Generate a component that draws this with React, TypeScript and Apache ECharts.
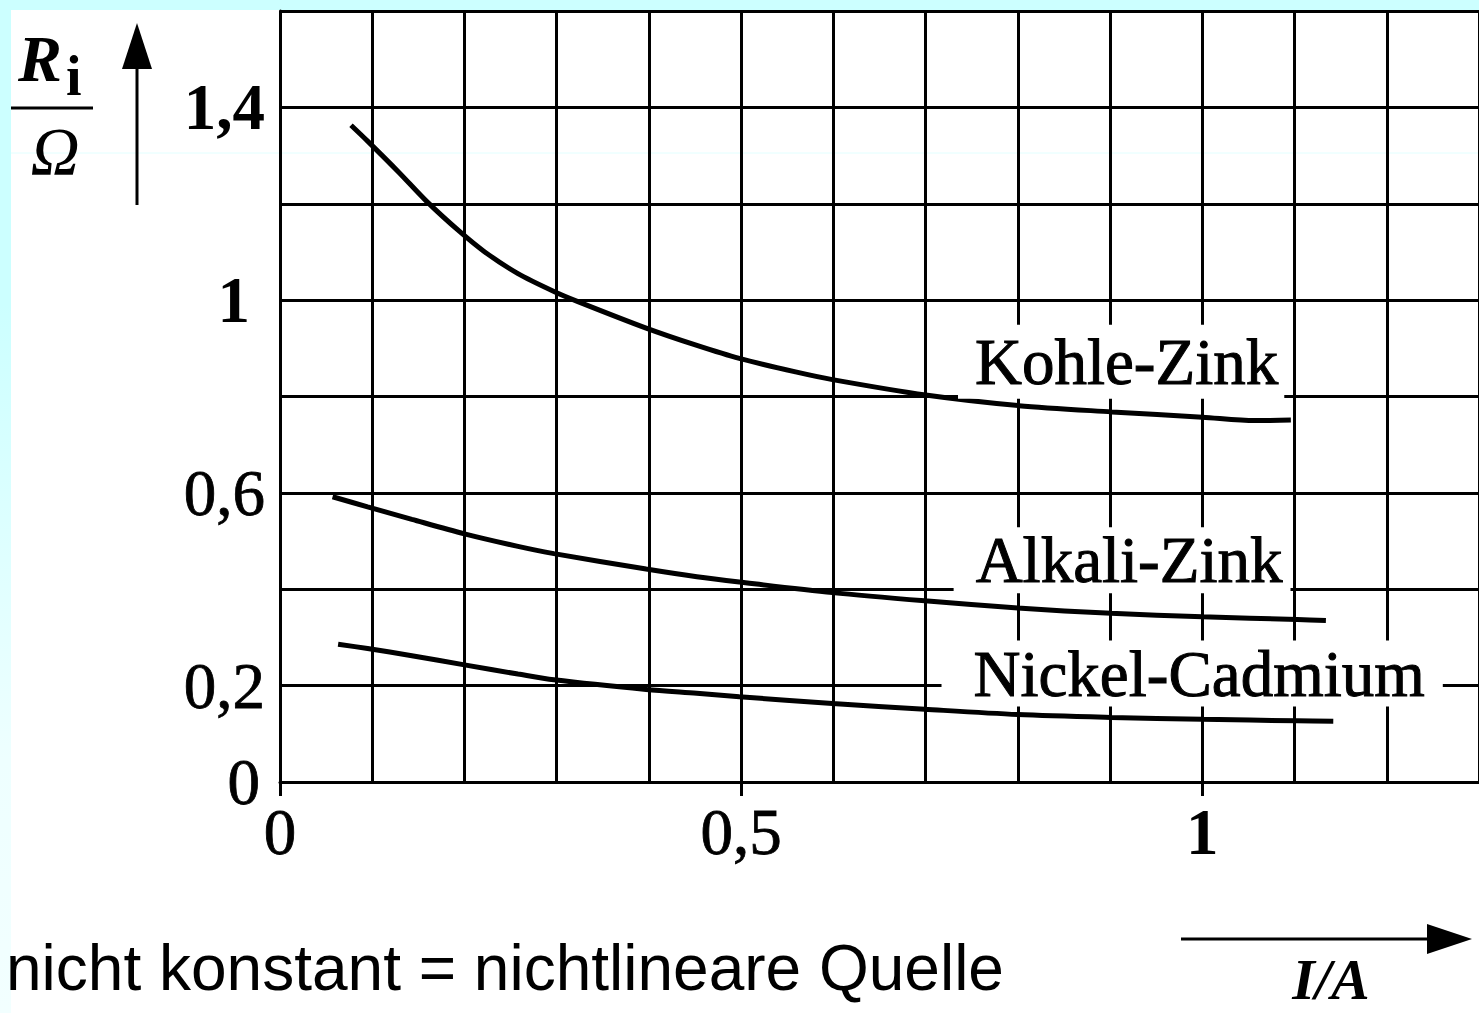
import React, { useEffect, useRef } from "react";
import * as echarts from "echarts";

// ---- data ----
const kohleX = [0.077, 0.095, 0.129, 0.159, 0.195, 0.222, 0.258, 0.297, 0.323, 0.397, 0.452, 0.498, 0.559, 0.599, 0.7, 0.801, 0.902, 1.0, 1.057, 1.096];
const kohleY = [1.363, 1.33, 1.265, 1.205, 1.142, 1.1, 1.055, 1.018, 0.997, 0.942, 0.906, 0.879, 0.851, 0.835, 0.803, 0.781, 0.768, 0.757, 0.75, 0.751];

const alkaliX = [0.057, 0.095, 0.143, 0.2, 0.258, 0.297, 0.397, 0.452, 0.498, 0.599, 0.699, 0.8, 0.901, 1.0, 1.103, 1.134];
const alkaliY = [0.592, 0.571, 0.545, 0.515, 0.489, 0.474, 0.442, 0.426, 0.415, 0.393, 0.376, 0.361, 0.35, 0.343, 0.337, 0.335];

const nickelX = [0.063, 0.095, 0.143, 0.2, 0.258, 0.297, 0.397, 0.452, 0.498, 0.599, 0.699, 0.8, 0.901, 1.0, 1.103, 1.142];
const nickelY = [0.286, 0.277, 0.262, 0.243, 0.224, 0.212, 0.192, 0.184, 0.177, 0.163, 0.151, 0.14, 0.134, 0.13, 0.127, 0.126];

const curveNames = ["Kohle-Zink", "Alkali-Zink", "Nickel-Cadmium"];
const labelAnchorX = [0.912, 0.913, 0.989];
const labelAnchorY = [0.872, 0.46, 0.225];

const yLabelValues = [0, 0.2, 0.6, 1, 1.4];
const yLabelTexts = ["0", "0,2", "0,6", "1", "1,4"];
const xLabelValues = [0, 0.5, 1];
const xLabelTexts = ["0", "0,5", "1"];

const yAxisTitleMain = "R";
const yAxisTitleSub = "i";
const yAxisTitleUnit = "Ω";
const xAxisTitle = "I/A";
const footnote = "nicht konstant = nichtlineare Quelle";

const SERIF = '"Liberation Serif", "Times New Roman", serif';
const SANS = '"Liberation Sans", Arial, sans-serif';

const pairs = (xs: number[], ys: number[]) => xs.map((x, i) => [x, ys[i]]);

const labelPaddings: number[][] = [
  [3, 6, 5, 17],
  [0, 8, 0, 22],
  [0, 18, 0, 32],
];

function findLabel(values: number[], texts: string[], v: number): string | null {
  const i = values.findIndex((t) => Math.abs(t - v) < 1e-6);
  return i < 0 ? null : texts[i];
}

export default function App() {
  const ref = useRef<HTMLDivElement>(null);

  useEffect(() => {
    if (!ref.current) return;
    const chart = echarts.init(ref.current, undefined, { renderer: "svg" });

    const baseRich = {
      fontFamily: SERIF,
      fontSize: 65,
      lineHeight: 64,
      color: "#000",
      textBorderColor: "#000",
      textBorderWidth: 0.8,
    };
    const rich = {
      r: { ...baseRich },
      b: { ...baseRich, fontWeight: "bold", textBorderWidth: 0 },
      b1: { ...baseRich, fontWeight: "bold", textBorderWidth: 0, padding: [0, 15, 0, 0] },
      z: { ...baseRich, padding: [0, 5, 0, 0] },
    };
    const xrich = {
      r: { ...baseRich },
      b: { ...baseRich, fontWeight: "bold", textBorderWidth: 0 },
    };

    const seriesData = [pairs(kohleX, kohleY), pairs(alkaliX, alkaliY), pairs(nickelX, nickelY)];

    const series = seriesData.map((d, i) => ({
      type: "line",
      name: curveNames[i],
      xAxisIndex: 0,
      yAxisIndex: 0,
      data: d,
      smooth: 0.3,
      showSymbol: false,
      symbol: "none",
      lineStyle: { color: "#000", width: 5 },
      silent: true,
      markPoint: {
        silent: true,
        symbol: "rect",
        symbolSize: 1,
        itemStyle: { color: "rgba(0,0,0,0)" },
        data: [
          {
            coord: [labelAnchorX[i], labelAnchorY[i]],
            label: {
              show: true,
              position: "inside",
              formatter: curveNames[i],
              fontFamily: SERIF,
              fontSize: 65,
              lineHeight: 66,
              color: "#000",
              textBorderColor: "#000",
              textBorderWidth: 1,
              backgroundColor: "#fff",
              padding: labelPaddings[i],
            },
          },
        ],
      },
    }));

    const option: any = {
      animation: false,
      backgroundColor: "#fff",
      grid: { left: 280, top: 11, right: -10, bottom: 231, containLabel: false },
      xAxis: [
        {
          type: "value",
          position: "bottom",
          min: 0,
          max: 1.3,
          interval: 0.1,
          axisLine: { show: true, lineStyle: { color: "#000", width: 3 } },
          axisTick: { show: false },
          splitLine: { show: true, lineStyle: { color: "#000", width: 3 } },
          axisLabel: { show: false },
        },
        {
          type: "value",
          position: "bottom",
          offset: 0,
          min: 0,
          max: 1.3,
          interval: 0.5,
          axisLine: { show: false },
          axisTick: {
            show: true,
            length: 14,
            inside: false,
            lineStyle: { color: "#000", width: 3 },
          },
          splitLine: { show: false },
          axisLabel: {
            show: true,
            margin: 18,
            fontFamily: SERIF,
            fontSize: 65,
            lineHeight: 64,
            color: "#000",
            showMinLabel: true,
            showMaxLabel: false,
            rich: xrich,
            formatter: (v: number) => {
              const t = findLabel(xLabelValues, xLabelTexts, v);
              if (t === null) return "";
              return t === "1" ? `{b|${t}}` : `{r|${t}}`;
            },
          },
        },
      ],
      yAxis: {
        type: "value",
        min: 0,
        max: 1.6,
        interval: 0.2,
        axisLine: { show: true, lineStyle: { color: "#000", width: 3 } },
        axisTick: { show: false },
        splitLine: { show: true, lineStyle: { color: "#000", width: 3 } },
        axisLabel: {
          show: true,
          margin: 15,
          fontFamily: SERIF,
          fontSize: 65,
          color: "#000",
          rich,
          formatter: (v: number) => {
            const t = findLabel(yLabelValues, yLabelTexts, v);
            if (t === null) return "";
            const s = t === "1" ? "b1" : t === "1,4" ? "b" : t === "0" ? "z" : "r";
            return `{${s}|${t}}`;
          },
        },
      },
      series,
      graphic: [
        // faint scan line
        {
          type: "line",
          z: -1,
          silent: true,
          shape: { x1: 0, y1: 153, x2: 1479, y2: 153 },
          style: { stroke: "#E2FFFF", lineWidth: 1 },
        },
        // cyan frame strips
        {
          type: "rect",
          silent: true,
          shape: { x: 0, y: 0, width: 1479, height: 10 },
          style: { fill: "#CCFFFF" },
        },
        {
          type: "rect",
          silent: true,
          shape: { x: 0, y: 0, width: 11, height: 1013 },
          style: {
            fill: new echarts.graphic.LinearGradient(0, 0, 0, 1, [
              { offset: 0, color: "#CCFFFF" },
              { offset: 0.3, color: "#CCFFFF" },
              { offset: 0.75, color: "#EEFFFF" },
              { offset: 1, color: "#F2FFFF" },
            ]),
          },
        },
        // y axis title: R_i / Ω
        {
          type: "text",
          silent: true,
          x: 18,
          y: 58,
          style: {
            text: yAxisTitleMain,
            font: `italic bold 66px ${SERIF}`,
            fill: "#000",
            align: "left",
            textAlign: "left",
            verticalAlign: "middle",
            textVerticalAlign: "middle",
          },
        },
        {
          type: "text",
          silent: true,
          x: 66,
          y: 76,
          style: {
            text: yAxisTitleSub,
            font: `bold 56px ${SERIF}`,
            fill: "#000",
            align: "left",
            textAlign: "left",
            verticalAlign: "middle",
            textVerticalAlign: "middle",
          },
        },
        {
          type: "line",
          silent: true,
          shape: { x1: 11, y1: 108, x2: 93, y2: 108 },
          style: { stroke: "#000", lineWidth: 3 },
        },
        {
          type: "text",
          silent: true,
          x: 55,
          y: 151,
          style: {
            text: yAxisTitleUnit,
            font: `italic 68px ${SERIF}`,
            fill: "#000",
            align: "center",
            textAlign: "center",
            verticalAlign: "middle",
            textVerticalAlign: "middle",
          },
        },
        // up arrow
        {
          type: "line",
          silent: true,
          shape: { x1: 137, y1: 205, x2: 137, y2: 66 },
          style: { stroke: "#000", lineWidth: 3 },
        },
        {
          type: "polygon",
          silent: true,
          shape: { points: [[122, 69], [152, 69], [137, 23]] },
          style: { fill: "#000" },
        },
        // right arrow
        {
          type: "line",
          silent: true,
          shape: { x1: 1181, y1: 939, x2: 1430, y2: 939 },
          style: { stroke: "#000", lineWidth: 3 },
        },
        {
          type: "polygon",
          silent: true,
          shape: { points: [[1427, 924], [1427, 954], [1472, 939]] },
          style: { fill: "#000" },
        },
        // x axis title
        {
          type: "text",
          silent: true,
          x: 1331,
          y: 979,
          style: {
            text: xAxisTitle,
            font: `italic bold 58px ${SERIF}`,
            fill: "#000",
            align: "center",
            textAlign: "center",
            verticalAlign: "middle",
            textVerticalAlign: "middle",
          },
        },
        // footnote
        {
          type: "text",
          silent: true,
          x: 6,
          y: 968,
          style: {
            text: footnote,
            font: `64px ${SANS}`,
            fill: "#000",
            align: "left",
            textAlign: "left",
            verticalAlign: "middle",
            textVerticalAlign: "middle",
          },
        },
      ],
    };

    chart.setOption(option);
    return () => {
      chart.dispose();
    };
  }, []);

  return (
    <div
      ref={ref}
      style={{ position: "absolute", left: 0, top: 0, width: 1479, height: 1013, overflow: "hidden" }}
    />
  );
}
